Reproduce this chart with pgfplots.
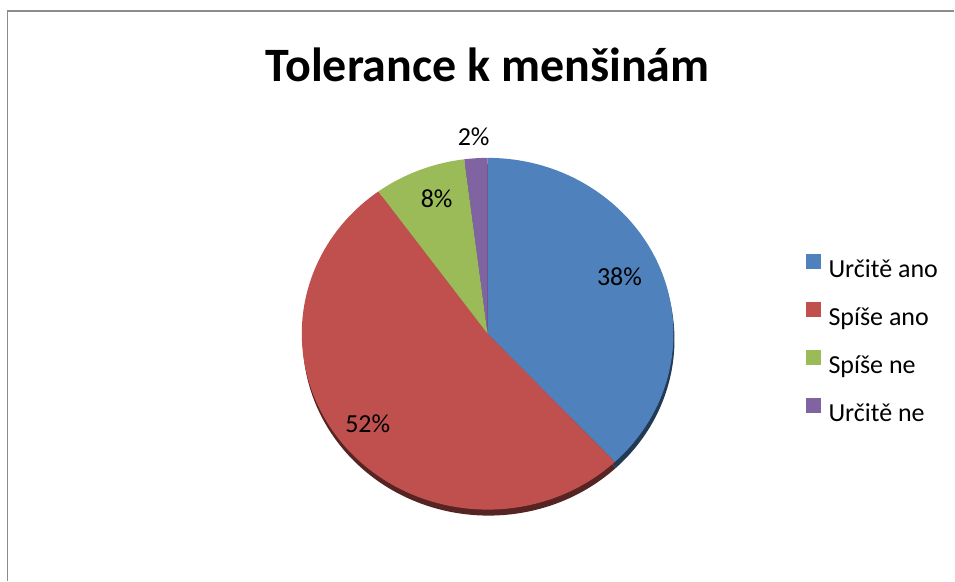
\documentclass[border=0pt]{standalone}
\usepackage{pgfplots}
\pgfplotsset{compat=1.18}
\usepackage{fontspec}
\setmainfont{Carlito}
\definecolor{c1}{HTML}{4F81BD}
\definecolor{c2}{HTML}{C0504D}
\definecolor{c3}{HTML}{9BBB59}
\definecolor{c4}{HTML}{8064A2}
\definecolor{framegray}{HTML}{8C8C8C}
% shares in percent
\def\vA{38}\def\vB{52}\def\vC{8}\def\vD{2}
\pgfmathsetmacro\aA{90}
\pgfmathsetmacro\aB{\aA-3.6*\vA}
\pgfmathsetmacro\aC{\aB-3.6*\vB}
\pgfmathsetmacro\aD{\aC-3.6*\vC}
\pgfmathsetmacro\aE{\aD-3.6*\vD}
\def\cx{488}\def\cy{247}
\newcommand\pieslice[3]{%
  \fill[#1] (axis cs:\cx,\cy) -- +(#2:186pt and 176pt)
    arc[start angle=#2, end angle=#3, x radius=186pt, y radius=176pt] -- cycle;}
\begin{document}
\begin{tikzpicture}
\begin{axis}[
  hide axis, scale only axis,
  width=955pt, height=581pt,
  xmin=0, xmax=955, ymin=0, ymax=581,
  clip=false,
  legend image code/.code={\fill[#1] (0pt,0.5pt) rectangle (15pt,15.5pt);},
  legend style={at={(axis cs:806,240)}, anchor=west, draw=none, fill=none,
    font=\fontsize{26}{31}\selectfont, row sep=19pt, column sep=4pt, inner sep=0pt,
    nodes={inner sep=4pt}},
  legend cell align=left,
]
\addlegendimage{fill=c1, draw=none}\addlegendentry{Určitě ano}
\addlegendimage{fill=c2, draw=none}\addlegendentry{Spíše ano}
\addlegendimage{fill=c3, draw=none}\addlegendentry{Spíše ne}
\addlegendimage{fill=c4, draw=none}\addlegendentry{Určitě ne}
% page extent
\path (axis cs:0,0) rectangle (axis cs:955,581);
% frame
\draw[framegray, line width=1.5pt] (axis cs:7.5,0) -- (axis cs:7.5,570) -- (axis cs:955,570);
% shadow / edge
\begin{scope}[yshift=-6pt, xshift=1pt]
\pieslice{c1!45!black}{\aA}{\aB}
\pieslice{c2!45!black}{\aB}{\aC}
\pieslice{c3!45!black}{\aC}{\aD}
\pieslice{c4!45!black}{\aD}{\aE}
\end{scope}
\pieslice{c1}{\aA}{\aB}
\pieslice{c2}{\aB}{\aC}
\pieslice{c3}{\aC}{\aD}
\pieslice{c4}{\aD}{\aE}
% labels
\begin{scope}[every node/.style={font=\fontsize{26}{31}\selectfont}]
\node at (axis cs:620,304) {38\%};
\node at (axis cs:368,157) {52\%};
\node at (axis cs:437,382) {8\%};
\node at (axis cs:474,444) {2\%};
\end{scope}
\node[font=\bfseries\fontsize{48}{56}\selectfont] at (axis cs:488,516) {Tolerance k menšinám};
\end{axis}
\end{tikzpicture}
\end{document}
